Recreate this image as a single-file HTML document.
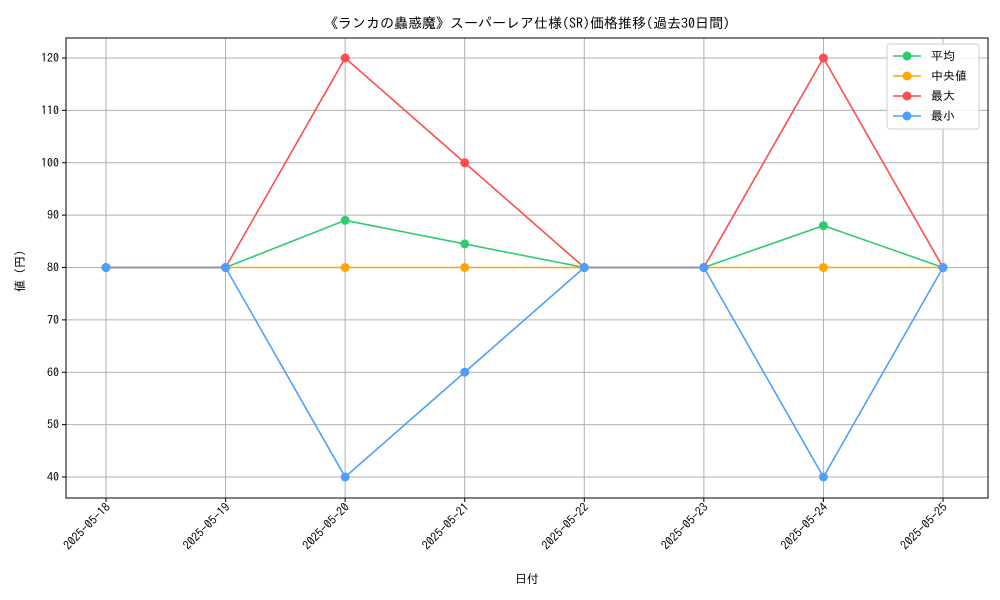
<!DOCTYPE html>
<html><head><meta charset="utf-8"><style>
body{margin:0;background:#fff;}
svg{display:block;font-family:"IPAGothic","WenQuanYi Zen Hei","Noto Sans CJK JP",sans-serif;}
</style></head><body>
<svg id="c" width="1000" height="600" viewBox="0 0 1000 600"></svg>
<script>
const categories=["2025-05-18","2025-05-19","2025-05-20","2025-05-21","2025-05-22","2025-05-23","2025-05-24","2025-05-25"];
const avgValues=[80,80,89,84.5,80,80,88,80];
const medianValues=[80,80,80,80,80,80,80,80];
const maxValues=[80,80,120,100,80,80,120,80];
const minValues=[80,80,40,60,80,80,40,80];
const yTicks=[40,50,60,70,80,90,100,110,120];
const seriesNames=["平均","中央値","最大","最小"];
const seriesColors=["#2ecc71","#ffa500","#ff4d4d","#4d9fff"];
const NS="http://www.w3.org/2000/svg";
const svg=document.getElementById('c');
const L=66,R=988,T=38,B=498;
function x(i){return 106+i*(943-106)/(categories.length-1);}
function y(v){return 477-(v-40)*(477-58)/80;}
function el(tag,a,parent){const e=document.createElementNS(NS,tag);for(const k in a)e.setAttribute(k,a[k]);(parent||svg).appendChild(e);return e;}
categories.forEach((c,i)=>{
 const g=el('line',{x1:x(i),x2:x(i),y1:T,y2:B,stroke:'#b0b0b0','stroke-width':1});
 
 
 const tk=el('line',{x1:x(i),x2:x(i),y1:B,y2:B+4,stroke:'#000'});
 
 
 const t=el('text',{x:x(i)+5,y:B+10,'font-size':12,'text-anchor':'end',transform:`rotate(-45 ${x(i)+5} ${B+10})`});
 t.textContent=c;
 
 
});
yTicks.forEach(v=>{
 const g=el('line',{x1:L,x2:R,y1:y(v),y2:y(v),stroke:'#b0b0b0','stroke-width':1});
 
 
 const tk=el('line',{x1:L-4,x2:L,y1:y(v),y2:y(v),stroke:'#000'});
 
 
 const t=el('text',{x:L-7,y:y(v)+4,'font-size':12,'text-anchor':'end'});
 t.textContent=v;
 
 
});
const frame=el('rect',{x:L,y:T,width:R-L,height:B-T,fill:'none',stroke:'#000','stroke-width':1});


const series=[avgValues,medianValues,maxValues,minValues];
series.forEach((vals,s)=>{
 const p=el('polyline',{points:vals.map((v,i)=>x(i)+','+y(v)).join(' '),fill:'none',stroke:seriesColors[s],'stroke-width':1.6});
 
 
 vals.forEach((v,i)=>{
  const c=el('circle',{cx:x(i),cy:y(v),r:4.5,fill:seriesColors[s]});
  
  
 });
});
const title=el('text',{x:527,y:28,'font-size':14,'text-anchor':'middle'});
title.textContent='《ランカの蟲惑魔》スーパーレア仕様(SR)価格推移(過去30日間)';


const xt=el('text',{x:527,y:583,'font-size':12,'text-anchor':'middle'});
xt.textContent='日付';


const yt=el('text',{x:24,y:268,'font-size':12,'text-anchor':'middle',transform:'rotate(-90 24 268)'});
yt.textContent='値（円）';


const lg=el('rect',{x:887,y:44,width:92,height:85,rx:3,fill:'#fff','fill-opacity':0.85,stroke:'#ccc'});


seriesNames.forEach((n,s)=>{
 const yy=56+s*20;
 const l=el('line',{x1:893,x2:921,y1:yy,y2:yy,stroke:seriesColors[s],'stroke-width':1.6});
 
 
 const c=el('circle',{cx:907,cy:yy,r:4.5,fill:seriesColors[s]});
 
 
 const t=el('text',{x:931,y:yy+4,'font-size':12});
 t.textContent=n;
 
 
});
</script>
</body></html>
